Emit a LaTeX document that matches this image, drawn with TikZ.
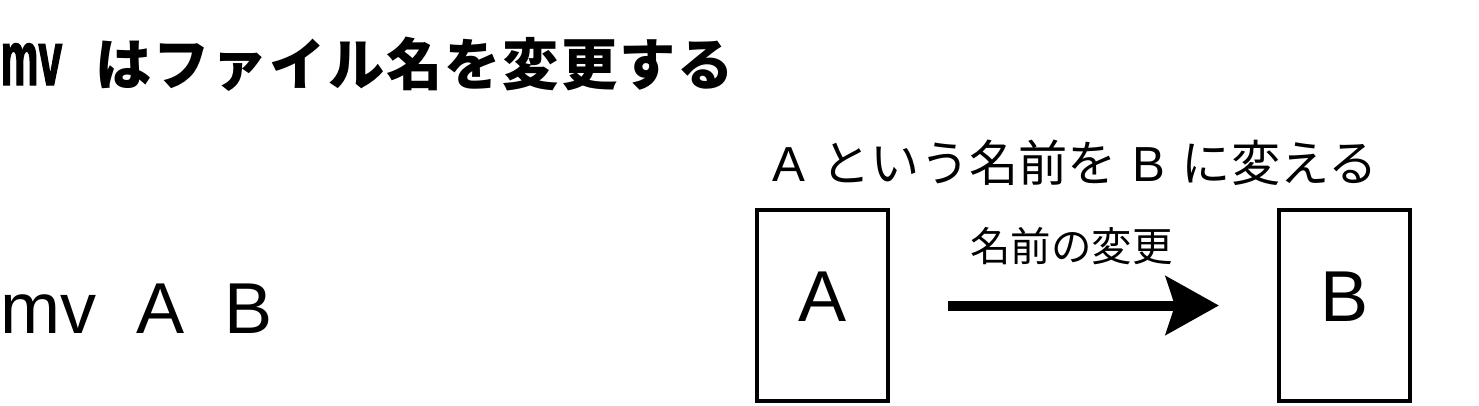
\documentclass[tikz,border=0pt]{standalone}
\usepackage{fontspec}
\usepackage{tikz}
\usetikzlibrary{arrows.meta,positioning}
\setmainfont{Liberation Sans}
\newfontfamily\jpfont{Noto Sans CJK JP}
\newfontfamily\jptitlefont[LetterSpace=3.5]{Noto Sans CJK JP}
\newfontfamily\mvfont[FakeStretch=0.55, FakeBold=1.5]{Liberation Sans Bold}

\begin{document}
\begin{tikzpicture}[
    x=0.01cm, y=-0.01cm,
    title/.style={
        anchor=base west,
        inner sep=0pt,
        font=\fontsize{16pt}{16pt}\selectfont\bfseries
    },
    command/.style={
        anchor=base west,
        inner sep=0pt,
        font=\fontsize{20.5pt}{20.5pt}\selectfont
    },
    caption/.style={
        inner sep=0pt,
        font=\fontsize{14pt}{14pt}\selectfont
    },
    filebox/.style={
        draw,
        line width=0.04cm,
        minimum width=1.31cm,
        minimum height=1.91cm,
        inner sep=0pt,
        text depth=0.17cm,
        font=\fontsize{20.5pt}{20.5pt}\selectfont
    },
    line/.style={
        line width=0.1cm,
        -{Stealth[length=0.53cm, width=0.58cm, inset=0.09cm]},
        shorten <=0.58cm,
        shorten >=0.58cm
    }
]
\useasboundingbox (0,0) rectangle (1479,405);

% ---- Title ----
\node[title] (head) at (0,85)
    {{\mvfont\mdseries\fontsize{22pt}{22pt}\selectfont mv}\hspace{0.33cm}{\jptitlefont はファイル名を変更する}};

% ---- Command line ----
\node[command] (cmd) at (0,333) {mv\hspace{0.40cm}A\hspace{0.40cm}B};

% ---- Files ----
\node[filebox] (fileA) at (822.5,305.5) {A};
\node[filebox] (fileB) at (1344.5,305.5) {B};

\node[caption] (what) at (1075,163)
    {A\hspace{0.16cm}{\jpfont という名前を}\hspace{0.16cm}B\hspace{0.16cm}{\jpfont に変える}};

% ---- Connection ----
\draw[line] (fileA) -- node[caption, above=0.36cm, xshift=-0.12cm, font=\fontsize{11.5pt}{11.5pt}\jpfont] (rename) {名前の変更} (fileB);

\end{tikzpicture}
\end{document}
